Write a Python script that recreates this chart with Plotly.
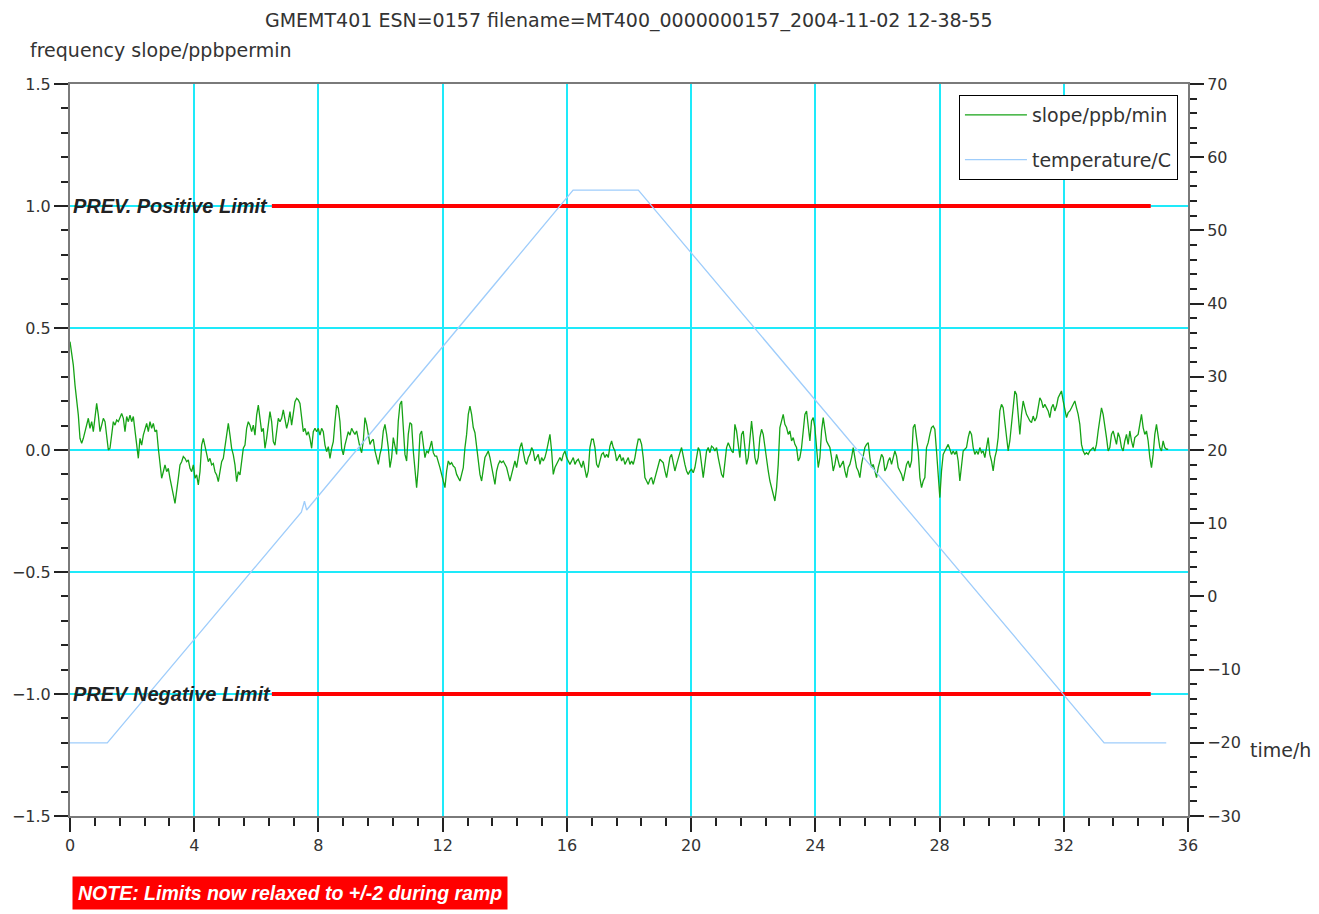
import plotly.graph_objects as go

# ---------------- data ----------------
TITLE = "GMEMT401 ESN=0157 filename=MT400_0000000157_2004-11-02 12-38-55"
Y_TITLE = "frequency slope/ppbpermin"
X_TITLE = "time/h"

# sampling step of the slope trace (hours) and start time of each digitised segment
slope_step = 0.05366
seg_starts = [0.0, 9.176, 18.405, 27.58]

slope_a = [0.444, 0.389, 0.348, 0.266, 0.212, 0.143, 0.048, 0.027, 0.048, 0.075, 0.102, 0.130, 0.089, 0.116, 0.075,
           0.143, 0.191, 0.143, 0.075, 0.102, 0.130, 0.116, 0.048, 0.0, 0.007, 0.075, 0.116, 0.102, 0.123, 0.116,
           0.130, 0.150, 0.130, 0.075, 0.137, 0.116, 0.143, 0.116, 0.137, 0.075, 0.034, -0.034, 0.048, 0.020, 0.061,
           0.089, 0.109, 0.075, 0.116, 0.089, 0.109, 0.075, 0.082, 0.007, -0.061, -0.116, -0.089, -0.061, -0.089,
           -0.075, -0.116, -0.157, -0.184, -0.219, -0.157, -0.116, -0.061, -0.048, -0.027, -0.034, -0.048, -0.041,
           -0.075, -0.089, -0.061, -0.116, -0.102, -0.143, -0.089, 0.020, 0.048, 0.020, -0.020, -0.048, -0.034,
           -0.061, -0.055, -0.089, -0.102, -0.130, -0.089, -0.048, -0.034, 0.020, 0.075, 0.109, 0.061, 0.007, -0.020,
           -0.061, -0.130, -0.089, -0.102, -0.048, 0.007, 0.020, 0.089, 0.116, 0.102, 0.075, 0.102, 0.061, 0.143,
           0.184, 0.130, 0.075, 0.089, 0.007, 0.048, 0.102, 0.157, 0.116, 0.034, 0.020, 0.089, 0.130, 0.116, 0.130,
           0.164, 0.130, 0.089, 0.116, 0.157, 0.102, 0.157, 0.198, 0.212, 0.205, 0.191, 0.130, 0.075, 0.089, 0.061,
           0.075, 0.048, 0.007, 0.075, 0.089, 0.075, 0.089, 0.061, 0.089, 0.075, 0.020, -0.007, 0.014, -0.034, 0.007,
           0.034, 0.116, 0.184, 0.171, 0.116, 0.007, -0.020, 0.020, 0.048, 0.075, 0.061, 0.089, 0.075]

slope_b = [0.064, 0.078, 0.037, 0.010, -0.011, 0.037, 0.133, 0.105, 0.064, 0.023, 0.037, 0.044, -0.004, -0.031,
           -0.059, -0.018, 0.010, 0.078, 0.105, 0.064, 0.010, -0.072, -0.031, 0.051, 0.010, -0.018, 0.119, 0.187,
           0.201, 0.105, -0.018, -0.045, 0.064, 0.112, 0.105, -0.004, -0.100, -0.154, -0.072, 0.064, 0.078, 0.010,
           -0.031, -0.004, -0.011, 0.010, 0.037, -0.011, -0.025, -0.025, -0.045, -0.072, -0.100, -0.127, -0.154,
           -0.086, -0.045, -0.059, -0.052, -0.066, -0.072, -0.100, -0.113, -0.127, -0.100, -0.072, 0.010, 0.064,
           0.146, 0.180, 0.146, 0.092, 0.071, 0.010, -0.059, -0.100, -0.127, -0.086, -0.031, -0.018, -0.004, -0.031,
           -0.072, -0.100, -0.141, -0.086, -0.059, -0.045, -0.052, -0.045, -0.059, -0.072, -0.100, -0.127, -0.100,
           -0.072, -0.045, -0.072, -0.031, 0.010, 0.030, -0.004, -0.045, -0.059, -0.031, -0.018, 0.010, -0.004,
           -0.045, -0.031, -0.018, -0.059, -0.031, -0.045, -0.031, -0.004, 0.037, 0.064, -0.004, -0.100, -0.072,
           -0.059, -0.045, -0.031, -0.045, -0.018, -0.004, -0.031, -0.045, -0.059, -0.045, -0.031, -0.059, -0.045,
           -0.038, -0.059, -0.072, -0.045, -0.086, -0.113, -0.086, 0.010, 0.044, 0.044, 0.010, -0.059, -0.072,
           -0.045, -0.018, -0.011, -0.031, -0.018, -0.031, 0.016, 0.037, 0.010, -0.004, -0.045, -0.031, -0.018,
           -0.045, -0.031, -0.059, -0.045, -0.031, -0.059, -0.045, -0.059, -0.031, 0.010, 0.044, 0.044]

slope_c = [0.023, -0.031, -0.113, -0.127, -0.141, -0.120, -0.113, -0.141, -0.113, -0.086, -0.059, -0.038, -0.045,
           -0.052, -0.086, -0.113, -0.072, -0.031, -0.018, -0.059, -0.086, -0.059, -0.031, -0.011, 0.010, -0.031,
           -0.059, -0.086, -0.100, -0.086, -0.079, -0.093, -0.072, -0.031, 0.010, -0.004, -0.072, -0.113, -0.059,
           -0.004, 0.010, -0.011, 0.016, 0.010, -0.004, 0.010, -0.031, -0.072, -0.100, -0.113, -0.045, 0.010, 0.030,
           0.010, -0.004, -0.011, 0.105, 0.078, 0.010, -0.031, 0.064, 0.078, 0.010, -0.059, -0.031, 0.064, 0.119,
           0.051, -0.031, -0.059, -0.031, 0.051, 0.085, 0.064, 0.010, -0.045, -0.086, -0.127, -0.154, -0.182,
           -0.209, -0.154, -0.059, 0.092, 0.119, 0.146, 0.105, 0.092, 0.064, 0.078, 0.037, 0.051, 0.023, 0.010,
           -0.045, -0.031, 0.010, 0.078, 0.146, 0.160, 0.092, 0.037, 0.119, 0.133, 0.092, 0.010, -0.072, -0.031,
           0.078, 0.133, 0.092, 0.037, 0.023, 0.010, -0.031, -0.086, -0.059, -0.018, -0.045, -0.072, -0.059, -0.045,
           -0.086, -0.113, -0.072, -0.059, -0.031, 0.010, -0.031, -0.072, -0.086, -0.113, -0.059, -0.031, 0.010,
           0.023, 0.030, -0.031, -0.072, -0.059, -0.086, -0.113, -0.072, -0.045, -0.018, -0.031, -0.086, -0.072,
           -0.045, -0.031, -0.059, -0.031, -0.004, -0.025, -0.072, -0.086, -0.100, -0.127, -0.086, -0.059, -0.045,
           -0.072, -0.045, 0.092, 0.105, 0.051, -0.004, -0.113, -0.154, -0.127, -0.113]

slope_d = [0.010, 0.030, 0.064, 0.092, 0.098, 0.085, -0.004, -0.086, -0.195, -0.086, -0.018, -0.004, 0.010, 0.023,
           0.003, -0.018, -0.004, -0.018, -0.004, -0.045, -0.127, -0.059, -0.004, 0.003, 0.010, 0.051, 0.078, 0.064,
           0.010, -0.018, -0.004, -0.018, 0.010, -0.011, -0.004, -0.031, 0.010, 0.051, -0.018, -0.045, -0.086,
           -0.031, -0.004, 0.051, 0.160, 0.187, 0.173, 0.119, 0.051, -0.004, 0.037, 0.105, 0.201, 0.242, 0.228,
           0.160, 0.064, 0.146, 0.201, 0.173, 0.146, 0.133, 0.119, 0.112, 0.139, 0.119, 0.133, 0.173, 0.214, 0.201,
           0.173, 0.187, 0.173, 0.160, 0.133, 0.173, 0.187, 0.160, 0.180, 0.214, 0.228, 0.242, 0.201, 0.160, 0.133,
           0.153, 0.160, 0.173, 0.187, 0.201, 0.173, 0.146, 0.105, 0.023, -0.004, -0.018, -0.011, -0.018, -0.004,
           0.003, 0.010, -0.004, 0.023, 0.078, 0.119, 0.173, 0.146, 0.105, 0.051, -0.004, 0.010, 0.064, 0.078,
           0.051, 0.023, 0.071, 0.051, 0.010, -0.004, 0.037, 0.064, 0.023, 0.078, 0.037, 0.010, 0.051, 0.057, 0.064,
           0.105, 0.146, 0.092, 0.064, 0.078, 0.037, -0.031, -0.072, -0.018, 0.064, 0.105, 0.051, 0.010, -0.004,
           0.037, 0.010, 0.003, 0.003]

# temperature profile breakpoints (h, degC)
temp_time = [0.0, 1.2, 7.45, 7.55, 7.62, 16.2, 18.3, 33.3, 35.3]
temp_vals = [-20.0, -20.0, 11.5, 13.0, 11.8, 55.5, 55.5, -20.0, -20.0]

# previous limits (ppb/min) and their drawn extent (h)
limit_time = [6.5, 34.8]
pos_limit = [1.0, 1.0]
neg_limit = [-1.0, -1.0]
pos_label = "PREV. Positive Limit"
neg_label = "PREV Negative Limit"
note_text = "NOTE: Limits now relaxed to +/-2 during ramp"

x_ticks = [0, 4, 8, 12, 16, 20, 24, 28, 32, 36]
y_ticks = [-1.5, -1.0, -0.5, 0.0, 0.5, 1.0, 1.5]
y_tick_text = ["\u22121.5", "\u22121.0", "\u22120.5", "0.0", "0.5", "1.0", "1.5"]
y2_ticks = [-30, -20, -10, 0, 10, 20, 30, 40, 50, 60, 70]

# ---------------- build ----------------
slope_t, slope_v = [], []
for start, seg in zip(seg_starts, [slope_a, slope_b, slope_c, slope_d]):
    for i, v in enumerate(seg):
        slope_t.append(start + i * slope_step)
        slope_v.append(v)

FONT = "DejaVu Sans"
BOLD = "Liberation Sans"
GRID = "#1EEAFA"
AXIS = "#7a7a7a"
TXT = "#333333"

fig = go.Figure()

fig.add_trace(go.Scatter(x=limit_time, y=pos_limit, mode="lines", line=dict(color="#FF0000", width=4),
                         showlegend=False, hoverinfo="skip"))
fig.add_trace(go.Scatter(x=limit_time, y=neg_limit, mode="lines", line=dict(color="#FF0000", width=4),
                         showlegend=False, hoverinfo="skip"))
fig.add_trace(go.Scatter(x=slope_t, y=slope_v, mode="lines", name="slope/ppb/min",
                         line=dict(color="#16a316", width=1.3), legendgroup="a"))
fig.add_trace(go.Scatter(x=temp_time, y=temp_vals, mode="lines", name="temperature/C",
                         line=dict(color="#9fcdfb", width=1.3), yaxis="y2", legendgroup="b"))

tick_common = dict(ticks="outside", ticklen=14, tickwidth=2, tickcolor="#222",
                   tickfont=dict(family=FONT, size=16, color=TXT))

fig.update_layout(
    width=1311, height=906,
    margin=dict(l=62, r=131, t=76, b=98, autoexpand=False),
    paper_bgcolor="white", plot_bgcolor="white",
    font=dict(family=FONT, size=16, color=TXT),
    showlegend=True,
    legend=dict(x=0.991, y=0.985, xanchor="right", yanchor="top", bgcolor="white",
                bordercolor="black", borderwidth=1, font=dict(family=FONT, size=19, color=TXT),
                traceorder="grouped", tracegroupgap=17, itemwidth=62),
    xaxis=dict(range=[0, 36], tickvals=x_ticks, ticktext=[str(v) for v in x_ticks],
               showgrid=True, gridcolor=GRID, gridwidth=1.5, zeroline=False,
               showline=True, linecolor=AXIS, linewidth=2, mirror=True,
               minor=dict(dtick=0.8, tick0=0, ticks="outside", ticklen=8, tickwidth=2, tickcolor="#222", showgrid=False),
               **tick_common),
    yaxis=dict(range=[-1.5, 1.5], tickvals=y_ticks, ticktext=y_tick_text,
               showgrid=True, gridcolor=GRID, gridwidth=1.5, zeroline=False,
               showline=True, linecolor=AXIS, linewidth=2,
               minor=dict(dtick=0.1, tick0=0, ticks="outside", ticklen=7, tickwidth=2, tickcolor="#222", showgrid=False),
               **tick_common),
    yaxis2=dict(range=[-30, 70], tickvals=y2_ticks, overlaying="y", side="right",
                showgrid=False, zeroline=False, showline=True, linecolor=AXIS, linewidth=2,
                minor=dict(dtick=2, tick0=0, ticks="outside", ticklen=7, tickwidth=2, tickcolor="#222"),
                **tick_common),
)

fig.add_annotation(text=TITLE, xref="paper", yref="paper", x=0.5, y=1.0, yshift=64,
                   xanchor="center", yanchor="middle", showarrow=False, font=dict(family=FONT, size=19, color=TXT))
fig.add_annotation(text=Y_TITLE, xref="paper", yref="paper", x=0, xshift=-42, y=1.0, yshift=34,
                   xanchor="left", yanchor="middle", showarrow=False, font=dict(family=FONT, size=19, color=TXT))
fig.add_annotation(text=X_TITLE, xref="paper", yref="paper", x=1.0, xshift=60, y=0.0, yshift=66,
                   xanchor="left", yanchor="middle", showarrow=False, font=dict(family=FONT, size=19, color=TXT))
fig.add_annotation(text="<b><i>" + pos_label + "</i></b>", xref="paper", yref="y", x=0, xshift=1, y=1.0,
                   xanchor="left", yanchor="middle", showarrow=False, font=dict(family=BOLD, size=20, color="#222"))
fig.add_annotation(text="<b><i>" + neg_label + "</i></b>", xref="paper", yref="y", x=0, xshift=1, y=-1.0,
                   xanchor="left", yanchor="middle", showarrow=False, font=dict(family=BOLD, size=20, color="#222"))
fig.add_annotation(text="<b><i>" + note_text + "</i></b>", xref="paper", yref="paper", x=0, xshift=2,
                   y=0, yshift=-77, xanchor="left", yanchor="middle", showarrow=False,
                   bgcolor="#FF0000", borderpad=5, font=dict(family=BOLD, size=19.5, color="white"))

fig.write_html("out.html")
